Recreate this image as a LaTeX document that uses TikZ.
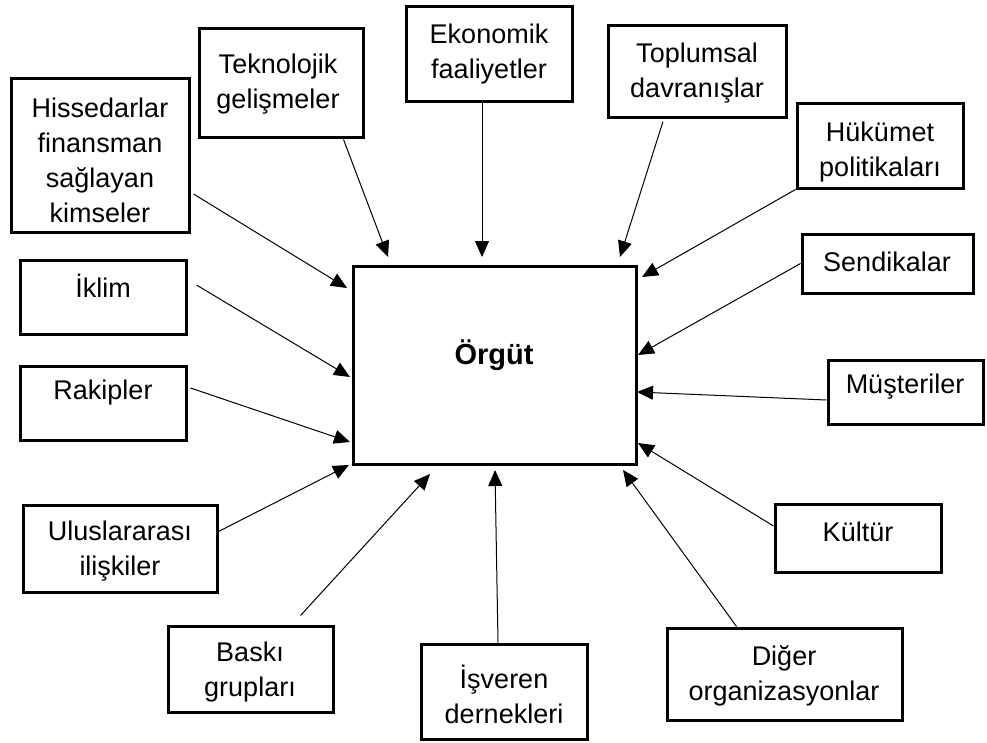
\documentclass[tikz,border=0pt]{standalone}
\usepackage{fontspec}
\setmainfont{Liberation Sans}
\usetikzlibrary{arrows.meta,calc}
\begin{document}
\begin{tikzpicture}[x=1pt,y=-1pt,
  box/.style={draw,line width=3pt,inner sep=0pt},
  txt/.style={align=center,inner sep=0pt,font=\fontsize{27}{35}\selectfont},
  arr/.style={line width=1pt,-{Triangle[length=16pt,width=14pt]}}]
\useasboundingbox (0,0) rectangle (987,742);
% boxes: name, corners
\newcommand\mkbox[5]{\node[box,minimum width={#4-#2},minimum height={#5-#3}] (#1) at ({(#2+#4)/2},{(#3+#5)/2}) {};}
\mkbox{org}{353}{266}{636}{464}
\mkbox{hiss}{11}{78}{189}{232}
\mkbox{tek}{199}{28}{363}{137}
\mkbox{eko}{406}{6}{572}{101}
\mkbox{top}{608}{25}{786}{117}
\mkbox{huk}{797}{103}{963}{188}
\mkbox{sen}{802}{234}{973}{293}
\mkbox{mus}{828}{360}{983}{424}
\mkbox{kul}{775}{504}{941}{572}
\mkbox{dig}{667}{628}{902}{720}
\mkbox{isv}{421}{644}{587}{739}
\mkbox{bas}{168}{626}{333}{712}
\mkbox{ulu}{23}{505}{217}{592}
\mkbox{rak}{20}{366}{186}{440}
\mkbox{ikl}{20}{260}{186}{334}
% texts
\node[font=\fontsize{29}{34}\selectfont\bfseries] (orgT) at (494,355) {Örgüt};
\node[txt] (hissT) at (100,160) {Hissedarlar\\finansman\\sağlayan\\kimseler};
\node[txt] (tekT) at (278,84) {Teknolojik\\gelişmeler};
\node[txt] (ekoT) at (489,54) {Ekonomik\\faaliyetler};
\node[txt] (topT) at (697,73) {Toplumsal\\davranışlar};
\node[txt] (hukT) at (880,152) {Hükümet\\politikaları};
\node[txt] (senT) at (887,262) {Sendikalar};
\node[txt] (musT) at (905,387) {Müşteriler};
\node[txt] (kulT) at (858,532) {Kültür};
\node[txt] (digT) at (784,676) {Diğer\\organizasyonlar};
\node[txt] (isvT) at (504,694) {İşveren\\dernekleri};
\node[txt] (basT) at (250,672) {Baskı\\grupları};
\node[txt] (uluT) at (120,551) {Uluslararası\\ilişkiler};
\node[txt] (rakT) at (103,393) {Rakipler};
\node[txt] (iklT) at (103,286) {İklim};
% arrow tips
\coordinate (hissP) at (347,288);
\coordinate (tekP) at (388,257);
\coordinate (ekoP) at (482,257);
\coordinate (topP) at (620,257);
\coordinate (hukP) at (642,277);
\coordinate (senP) at (638,355);
\coordinate (musP) at (637,392);
\coordinate (kulP) at (638,443);
\coordinate (digP) at (623,470);
\coordinate (isvP) at (495,470);
\coordinate (basP) at (430,474);
\coordinate (uluP) at (349,465);
\coordinate (rakP) at (350,442);
\coordinate (iklP) at (350,377);
% arrows
\draw[arr] ([shift={(3,39)}]hiss.east) -- (hissP);
\draw[arr] ([shift={(-21,1)}]tek.south east) -- (tekP);
\draw[arr] ([shift={(-7,0)}]eko.south) -- (ekoP);
\draw[arr] ([shift={(-34,3)}]top.south) -- (topP);
\draw[arr] (huk.south west) -- (hukP);
\draw[arr] (sen.west) -- (senP);
\draw[arr] ([shift={(0,8)}]mus.west) -- (musP);
\draw[arr] ([shift={(0,-12)}]kul.west) -- (kulP);
\draw[arr] ([shift={(-48,0)}]dig.north) -- (digP);
\draw[arr] ([shift={(-6,0)}]isv.north) -- (isvP);
\draw[arr] ([shift={(50,-9)}]bas.north) -- (basP);
\draw[arr] ([shift={(0,-17)}]ulu.east) -- (uluP);
\draw[arr] ([shift={(3,-15)}]rak.east) -- (rakP);
\draw[arr] ([shift={(9,-12)}]ikl.east) -- (iklP);
\end{tikzpicture}
\end{document}
